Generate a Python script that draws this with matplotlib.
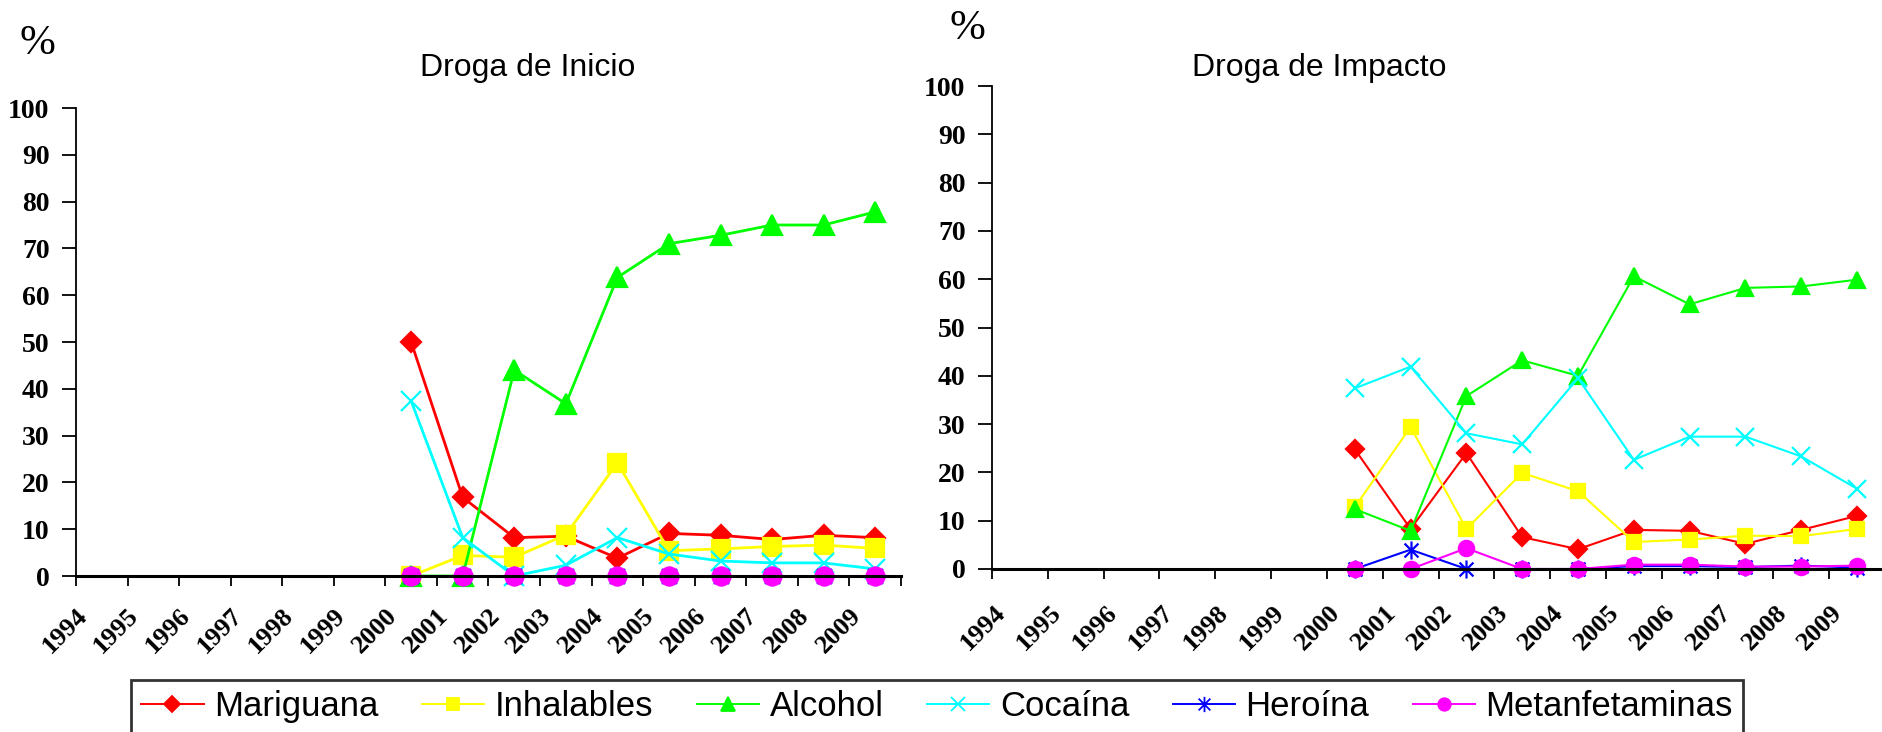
import matplotlib
matplotlib.use('Agg')
import matplotlib.pyplot as plt
from matplotlib.lines import Line2D
from matplotlib.path import Path
from matplotlib.transforms import ScaledTranslation

# Categories on the x axis (no data before 2000)
years = ['1994', '1995', '1996', '1997', '1998', '1999', '2000', '2001',
         '2002', '2003', '2004', '2005', '2006', '2007', '2008', '2009']
first_data = 6  # index of 2000

series = ['Mariguana', 'Inhalables', 'Alcohol', 'Cocaína', 'Heroína', 'Metanfetaminas']
colors = ['#FF0000', '#FFFF00', '#00FF00', '#00FFFF', '#0000FF', '#FF00FF']

# Droga de Inicio, 2000-2009 (%)
ini_mariguana = [50, 16.8, 8.2, 8.5, 3.8, 9.1, 8.7, 7.8, 8.7, 8.2]
ini_inhalables = [0, 4.4, 4.0, 8.8, 24.2, 5.4, 5.8, 6.3, 6.6, 5.9]
ini_alcohol = [0, 0, 44, 36.8, 63.8, 71, 72.8, 75, 75, 77.8]
ini_cocaina = [37.4, 8.2, 0, 2.3, 8.2, 4.7, 3.2, 2.8, 2.8, 1.5]
ini_heroina = [0, 0, 0, 0, 0, 0, 0, 0, 0, 0]
ini_metanf = [0, 0, 0, 0, 0, 0, 0, 0, 0, 0]

# Droga de Impacto, 2000-2009 (%)
imp_mariguana = [24.8, 8.3, 24, 6.6, 4.1, 8.1, 7.9, 5.2, 8.1, 11]
imp_inhalables = [12.8, 29.4, 8.3, 19.9, 16.1, 5.6, 6.1, 6.9, 6.8, 8.3]
imp_alcohol = [12.4, 7.9, 35.8, 43.2, 40, 60.6, 54.8, 58.2, 58.5, 59.9]
imp_cocaina = [37.4, 41.9, 28.1, 25.8, 39.5, 22.6, 27.4, 27.4, 23.3, 16.6]
imp_heroina = [0, 4.0, 0, 0, 0, 0.6, 0.6, 0.4, 0.7, 0.3]
imp_metanf = [0, 0, 4.3, 0, 0, 0.9, 0.9, 0.5, 0.5, 0.7]

ini_data = [ini_mariguana, ini_inhalables, ini_alcohol, ini_cocaina, ini_heroina, ini_metanf]
imp_data = [imp_mariguana, imp_inhalables, imp_alcohol, imp_cocaina, imp_heroina, imp_metanf]

# Excel-like asterisk marker (x with a vertical bar)
star = Path([(-1, -1), (1, 1), (-1, 1), (1, -1), (0, -1.3), (0, 1.3)],
            [Path.MOVETO, Path.LINETO, Path.MOVETO, Path.LINETO, Path.MOVETO, Path.LINETO])
markers = ['D', 's', '^', 'x', star, 'o']

serif = 'Liberation Serif'
sans = 'Liberation Sans'

fig = plt.figure(figsize=(18.83, 7.32), dpi=100)
ax1 = fig.add_axes([76 / 1883, 1 - 576 / 732, 825 / 1883, 468 / 732])
ax2 = fig.add_axes([992 / 1883, 1 - 569 / 732, 893 / 1883, 483 / 732])


def draw_panel(ax, data, sizes, lw, label_drop):
    x = list(range(first_data, len(years)))
    for vals, name, c, m, ms in zip(data, series, colors, markers, sizes):
        ax.plot(x, vals, color=c, lw=lw, marker=m, ms=ms, mfc=c, mec=c,
                mew=1.6, label=name, clip_on=False)
    ax.set_xlim(-0.5, len(years) - 0.5)
    ax.set_ylim(0, 100)
    ax.set_yticks(range(0, 101, 10))
    ax.set_yticklabels([str(v) for v in range(0, 101, 10)],
                       fontfamily=serif, fontweight='bold', fontsize=20)
    ax.tick_params(axis='y', length=10, width=1.3, pad=9)
    # boundaries get the tick marks, centres get the labels
    ax.set_xticks([i - 0.5 for i in range(len(years) + 1)])
    ax.set_xticklabels([])
    ax.tick_params(axis='x', which='major', length=7, width=1.3)
    ax.set_xticks(range(len(years)), minor=True)
    ax.set_xticklabels(years, minor=True, rotation=45, ha='right', va='top',
                       fontfamily=serif, fontweight='bold', fontsize=19)
    ax.tick_params(axis='x', which='minor', length=0, pad=label_drop)
    shift = ScaledTranslation(-10 / 100, 0, fig.dpi_scale_trans)
    for lab in ax.get_xticklabels(minor=True):
        lab.set_transform(lab.get_transform() + shift)
    for s in ['top', 'right']:
        ax.spines[s].set_visible(False)
    ax.spines['left'].set_linewidth(1.3)
    ax.spines['bottom'].set_linewidth(2.2)


draw_panel(ax1, ini_data, [10, 12.5, 15, 14, 14, 13], 2.0, 20)
draw_panel(ax2, imp_data, [9, 10.5, 12, 13.5, 13, 11], 1.5, 23)

fig.text(528 / 1883, 1 - 68 / 732, 'Droga de Inicio', fontfamily=sans, fontsize=23,
         ha='center', va='center')
fig.text(1319 / 1883, 1 - 68 / 732, 'Droga de Impacto', fontfamily=sans, fontsize=23,
         ha='center', va='center')
fig.text(37 / 1883, 1 - 44 / 732, '%', fontfamily=serif, fontsize=31,
         ha='center', va='center')
fig.text(967 / 1883, 1 - 29 / 732, '%', fontfamily=serif, fontsize=31,
         ha='center', va='center')

handles = [Line2D([], [], color=c, lw=1.4, marker=m, ms=ms, mfc=c, mec=c, mew=1.3)
           for c, m, ms in zip(colors, markers, [8, 9, 10, 10, 11, 9])]
leg = fig.legend(handles, series, loc='upper center',
                 bbox_to_anchor=(937 / 1883, 1 - 680 / 732), borderaxespad=0,
                 ncol=6, frameon=True, fancybox=False, edgecolor='black',
                 prop={'family': sans, 'size': 25}, handlelength=1.8,
                 handletextpad=0.3, columnspacing=1.25, borderpad=0.3)
leg.get_frame().set_linewidth(2)

fig.savefig('out.png', dpi=100)
